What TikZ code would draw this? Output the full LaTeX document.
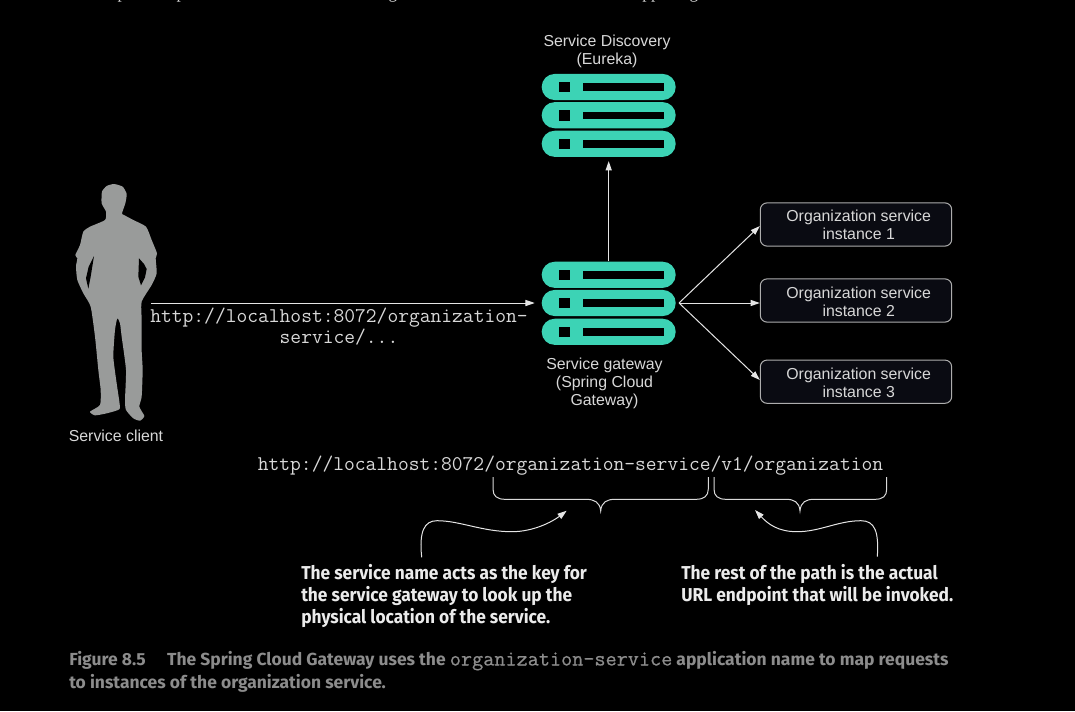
\documentclass[tikz,border=0pt]{standalone}
\usepackage{fontspec}
\usetikzlibrary{arrows.meta,calc}
\setmainfont{Liberation Sans}
\newfontfamily\capfont[FakeStretch=0.93]{Fira Sans}
\newfontfamily\figfont{Fira Sans}
\newfontfamily\topfont{Liberation Serif}
\newfontfamily\figmono[FakeBold=0.6]{Latin Modern Mono}
\definecolor{teal1}{HTML}{3CD3B5}
\definecolor{lbl}{HTML}{D8D8D8}
\definecolor{figgray}{HTML}{8C8C8C}
\definecolor{boxfill}{HTML}{0A0B12}
\definecolor{personc}{HTML}{999B9A}
\tikzset{
  x=0.75pt,y=-0.75pt,
  pill/.style={fill=teal1,rounded corners=9.7pt,minimum width=100.5pt,minimum height=19.6pt,inner sep=0pt,draw=none},
  lab/.style={text=lbl,align=center,inner sep=0pt,font=\fontsize{11.9}{13.5}\selectfont},
  mono/.style={text=lbl,align=center,inner sep=0pt,font=\ttfamily\fontsize{15.7}{15.75}\selectfont},
  inst/.style={draw=white!68!black,fill=boxfill,line width=0.75pt,rounded corners=5pt,minimum width=143.5pt,minimum height=32.4pt,text=lbl,align=center,inner sep=0pt},
  note/.style={text=white!92!black,align=left,inner sep=0pt,anchor=west,font=\capfont\bfseries\fontsize{14}{16.5}\selectfont},
  fig/.style={text=figgray,align=left,inner sep=0pt,anchor=base west,font=\figfont\bfseries\fontsize{13.1}{17}\selectfont},
  conn/.style={draw=white!90!black,line width=0.75pt,-{Triangle[length=7pt,width=4.6pt]}},
  brc/.style={draw=white!85!black,line width=0.75pt},
}
\newcommand{\serverrow}[2]{%
  \node[pill] (#1) at (608.7,#2) {};
  \fill[black] (559.3,#2-5.3) rectangle (570,#2+5.3);
  \fill[black] (583,#2-3.7) rectangle (664,#2+3.7);
}
\begin{document}
\begin{tikzpicture}
\useasboundingbox (0,0) rectangle (1075,711);
\fill[black] (0,0) rectangle (1075,711);
\begin{scope}
\clip (0,0) rectangle (1075,711);
\foreach \xx/\tt in {122/p,181/p,393/g,651/pp,694/g}
  \node[text=lbl,inner sep=0pt,anchor=base,font=\topfont\fontsize{13}{13}\selectfont] at (\xx,-1.5) {\tt};
\end{scope}
% person
\begin{scope}[shift={(0,170)},x=0.25pt,y=-0.25pt]
\fill[personc] plot[smooth cycle,tension=0.35] coordinates {
(342,42)(368,50)(380,72)(376,100)(366,130)(372,135)(400,150)(438,170)(455,210)(471,250)(467,265)(470,310)(455,345)(425,395)
(425,450)(425,540)(428,600)(425,680)(418,710)(433,738)(420,752)(400,745)(378,720)(375,690)(378,600)(365,500)(360,460)(352,445)
(345,480)(340,560)(350,640)(358,695)(358,718)(320,730)(285,736)(270,725)(300,705)(302,660)(295,600)(285,500)(272,410)(250,370)
(232,330)(228,290)(232,265)(226,255)(240,225)(250,185)(270,170)(315,150)(318,125)(305,100)(306,65)(320,48)};
\fill[black] (282,258) -- (266,290) -- (258,325) -- (265,356) -- (272,320) -- cycle;
\fill[black] (417,265) -- (432,282) -- (440,297) -- (435,322) -- (423,346) -- (415,320) -- cycle;
\end{scope}
\node[lab] (clientlabel) at (116,436) {Service client};
\coordinate (client) at (151,303);
% discovery
\node[lab] (disclabel) at (607,51) {Service Discovery\\(Eureka)};
\serverrow{disc1}{87}
\serverrow{disc2}{115.2}
\serverrow{disc3}{143.8}
% gateway
\serverrow{gw1}{274.8}
\serverrow{gw2}{303}
\serverrow{gw3}{331.8}
\node[lab] (gwlabel) at (604.5,383) {Service gateway\\(Spring Cloud\\Gateway)};
% instances
\node[inst] (i1) at (856,224.5) {};
\node[lab] at (858.7,225) {Organization service\\instance 1};
\node[inst] (i2) at (856,300.5) {};
\node[lab] at (858.7,302) {Organization service\\instance 2};
\node[inst] (i3) at (856,381.7) {};
\node[lab] at (858.7,383) {Organization service\\instance 3};
\coordinate (fan) at (679,303);
\draw[conn] (gw1.north -| disc3.south) -- ([yshift=-3pt]disc3.south);
\draw[conn] (client) -- ([xshift=-5pt]gw2.west);
\draw[conn] (fan) -- (i1.west |- 0,226);
\draw[conn] (fan) -- (i2.west |- fan);
\draw[conn] (fan) -- (i3.west |- 0,380);
\node[mono] (url1) at (339,327) {http://localhost:8072/organization-\\service/...};
\node[mono] (url2) at (570.5,466) {http://localhost:8072/organization-service/v1/organization};
% braces
\draw[brc] (493,477) -- (493,489) .. controls (493,496) and (497,499.3) .. (505,499.3) -- (586,499.3) .. controls (594,499.3) and (600,502) .. (600.7,511) .. controls (601.4,502) and (607,499.3) .. (615,499.3) -- (696,499.3) .. controls (704,499.3) and (708.3,496) .. (708.3,489) -- (708.3,477);
\draw[brc] (714,477) -- (714,489) .. controls (714,496) and (718,499.3) .. (726,499.3) -- (786,499.3) .. controls (794,499.3) and (799.3,502) .. (800,511) .. controls (800.7,502) and (806,499.3) .. (814,499.3) -- (875,499.3) .. controls (883,499.3) and (886.7,496) .. (886.7,489) -- (886.7,477);
% curved arrows
\coordinate (la) at (421.7,557.3);
\coordinate (lb) at (566.7,510.7);
\coordinate (ra) at (877.3,556.7);
\coordinate (rb) at (755,510);
\draw[conn] (la) .. controls (419,532) and (424,520.7) .. (437,520.7) .. controls (460,520.7) and (482,531.7) .. (512,531.7) .. controls (533,531.7) and (552,522) .. (lb);
\draw[conn] (ra) .. controls (879,532) and (875,520.7) .. (861,520.7) .. controls (838,520.7) and (820,531.7) .. (797,531.7) .. controls (778,531.7) and (768,524) .. (rb);
\node[note] (n1) at (301,595.5) {The service name acts as the key for\\the service gateway to look up the\\physical location of the service.};
\node[note] (n2) at (681,584.5) {The rest of the path is the actual\\URL endpoint that will be invoked.};
\node[fig] (figline1) at (69,665.5) {Figure 8.5\hspace{16pt}The Spring Cloud Gateway uses the {\figmono\fontsize{16.2}{17}\selectfont organization-service} application name to map requests};
\node[fig] (figline2) at (69,688.5) {to instances of the organization service.};
\end{tikzpicture}
\end{document}
